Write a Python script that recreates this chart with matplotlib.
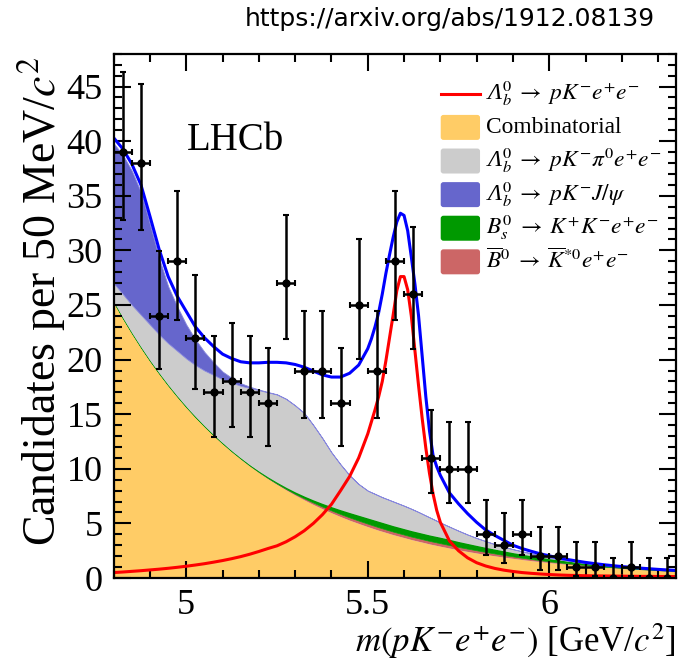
import numpy as np
import matplotlib
matplotlib.use('Agg')
import matplotlib.pyplot as plt
from matplotlib.lines import Line2D
from matplotlib.patches import FancyBboxPatch
from matplotlib.ticker import MultipleLocator

plt.rcParams['font.family'] = ['Liberation Serif', 'DejaVu Serif']
plt.rcParams['mathtext.fontset'] = 'stix'

# --- данные: гистограмма (бины по 50 МэВ) ---
bin_centers = np.arange(4.825, 6.35, 0.05)
counts = [39, 38, 24, 29, 22, 17, 18, 17, 16, 27, 19, 19, 16, 25, 19, 29,
          26, 11, 10, 10, 4, 3, 4, 2, 2, 1, 1, 0, 1, 0, 0]
err_lo = [6.22, 6.13, 4.86, 5.35, 4.65, 4.08, 4.20, 4.08, 3.95, 5.16, 4.32,
          4.32, 3.95, 4.96, 4.32, 5.35, 5.06, 3.26, 3.10, 3.10, 1.91, 1.63,
          1.91, 1.29, 1.29, 0.83, 0.83, 0.00, 0.83, 0.00, 0.00]
err_hi = [7.29, 7.22, 5.96, 6.44, 5.76, 5.20, 5.32, 5.20, 5.08, 6.26, 5.43,
          5.43, 5.08, 6.06, 5.43, 6.44, 6.16, 4.41, 4.27, 4.27, 3.16, 2.92,
          3.16, 2.64, 2.64, 2.30, 2.30, 1.84, 2.30, 1.84, 1.84]

# --- кривые фита ---
mass = np.concatenate([np.arange(4.8, 5.5001, 0.025),
                       np.arange(5.51, 5.7001, 0.01),
                       np.arange(5.725, 6.3501, 0.025)])
total_fit = [40.3, 39.3, 37.9, 36.0, 33.1, 30.1, 27.6, 25.8, 24.4, 23.0, 22.0,
             21.2, 20.5, 20.1, 19.8, 19.7, 19.7, 19.75, 19.75, 19.7, 19.55,
             19.3, 18.95, 18.6, 18.4, 18.4, 18.75, 19.5, 21.0,
             21.9, 23.0, 24.3, 26.0, 27.9, 29.6, 31.2, 32.6, 33.4, 33.2, 31.8,
             29.4, 26.9, 24.0, 20.3, 16.6, 13.5, 11.2, 10.2, 9.4,
             7.8, 6.8, 5.9, 5.1, 4.4, 3.9, 3.45, 3.0, 2.7, 2.45, 2.22, 2.03,
             1.85, 1.70, 1.56, 1.43, 1.32, 1.22, 1.13, 1.05, 0.98, 0.91, 0.85,
             0.79, 0.74, 0.69]
signal = [0.50, 0.55, 0.61, 0.67, 0.74, 0.81, 0.89, 0.98, 1.08, 1.19, 1.31,
          1.45, 1.60, 1.77, 1.96, 2.18, 2.43, 2.70, 2.95, 3.32, 3.78, 4.33,
          5.00, 5.80, 6.75, 8.0, 9.3, 11.0, 13.2,
          14.3, 15.4, 16.6, 18.0, 19.9, 22.0, 24.1, 26.3, 27.6, 27.6, 26.4,
          24.0, 20.8, 17.6, 14.6, 11.9, 9.6, 7.7, 6.2, 5.1,
          3.4, 2.5, 1.85, 1.4, 1.1, 0.88, 0.72, 0.60, 0.50, 0.43, 0.37, 0.32,
          0.28, 0.25, 0.23, 0.21, 0.20, 0.19, 0.18, 0.17, 0.16, 0.15, 0.15,
          0.14, 0.14, 0.13]
comb = [25.20, 23.73, 22.35, 21.05, 19.82, 18.67, 17.58, 16.56, 15.59, 14.68,
        13.83, 13.02, 12.27, 11.55, 10.88, 10.24, 9.65, 9.09, 8.56, 8.06,
        7.59, 7.15, 6.73, 6.34, 5.97, 5.62, 5.29, 4.99, 4.70,
        4.59, 4.48, 4.37, 4.27, 4.17, 4.07, 3.97, 3.88, 3.79, 3.70, 3.61,
        3.52, 3.44, 3.36, 3.28, 3.20, 3.12, 3.05, 2.98, 2.91,
        2.74, 2.58, 2.43, 2.29, 2.15, 2.03, 1.91, 1.80, 1.69, 1.59, 1.50,
        1.41, 1.33, 1.25, 1.18, 1.11, 1.04, 0.98, 0.93, 0.87, 0.82, 0.77,
        0.73, 0.69, 0.65, 0.61]
bkstar = [0.05] * 17 + [0.06, 0.08, 0.10, 0.12, 0.15, 0.18, 0.20, 0.22, 0.24,
                        0.26, 0.27, 0.28] + [0.28] * 20 + \
         [0.28, 0.27, 0.26, 0.25, 0.235, 0.22, 0.20, 0.18, 0.165, 0.15, 0.135,
          0.12, 0.11, 0.10, 0.09, 0.08, 0.07, 0.06, 0.055, 0.05, 0.045, 0.04,
          0.035, 0.03, 0.03, 0.03]
bs = [0.05] * 14 + [0.06, 0.07, 0.09, 0.11, 0.13, 0.15, 0.18, 0.21, 0.25,
                    0.30, 0.35, 0.40, 0.45, 0.49, 0.52] + \
     [0.53, 0.54] + [0.55] * 18 + \
     [0.53, 0.50, 0.48, 0.45, 0.43, 0.40, 0.38, 0.35, 0.33, 0.30, 0.28, 0.25,
      0.23, 0.20, 0.18, 0.16, 0.15, 0.13, 0.12, 0.10, 0.09, 0.08, 0.07, 0.06,
      0.055, 0.05]
pi0 = [1.70, 2.17, 2.55, 2.95, 3.28, 3.53, 3.82, 4.14, 4.41, 4.72, 5.07, 5.48,
       5.83, 6.25, 6.61, 7.04, 7.41, 7.74, 8.03, 8.09, 7.91, 7.59, 6.84, 5.96,
       4.96, 4.14, 3.40, 2.85, 2.50,
       2.45, 2.40, 2.35, 2.30, 2.27, 2.24, 2.21, 2.17, 2.13, 2.09, 2.04, 1.99,
       1.92, 1.85, 1.77, 1.69, 1.61, 1.52, 1.43, 1.34,
       1.15, 0.98, 0.81, 0.67, 0.56, 0.45, 0.37, 0.31, 0.26, 0.22, 0.18, 0.10,
       0.07, 0.06, 0.04, 0.03, 0.02, 0.02, 0.02, 0.02, 0.02, 0.02, 0.02, 0.02,
       0.02, 0.02]
jpsi = [12.8, 12.75, 12.29, 11.23, 9.16, 6.99, 5.21, 4.05, 3.10, 2.35, 1.70,
        1.15, 0.70, 0.43, 0.24, 0.12, 0.06, 0.03, 0.02, 0.01] + [0.0] * 55

leg_labels = [r'Λ${}_b^0\;\rightarrow\;pK^{-}e^{+}e^{-}$',
              'Combinatorial',
              r'Λ${}_b^0\;\rightarrow\;pK^{-}\pi^{0}e^{+}e^{-}$',
              r'Λ${}_b^0\;\rightarrow\;pK^{-}J/\psi$',
              r'$B_s^0\;\rightarrow\;K^{+}K^{-}e^{+}e^{-}$',
              r'$\overline{B}^0\;\rightarrow\;\overline{K}^{*0}e^{+}e^{-}$']
leg_colors = ['red', '#ffcc66', '#cccccc', '#6666cc', '#009900', '#cc6666']

# --- рисуем ---
fig = plt.figure(figsize=(6.81, 6.64), dpi=100)
ax = fig.add_axes([0.167, 0.1295, 0.826, 0.7895])

s1 = np.array(comb)
s2 = s1 + np.array(bkstar)
s3 = s2 + np.array(bs)
s4 = s3 + np.array(pi0)
s5 = s4 + np.array(jpsi)

ax.fill_between(mass, 0, s1, color='#ffcc66', lw=0)
ax.fill_between(mass, s1, s2, color='#cc6666', lw=0)
ax.fill_between(mass, s2, s3, facecolor='#009900', edgecolor='#009900', lw=0.5)
ax.fill_between(mass, s3, s4, color='#cccccc', lw=0)
ax.fill_between(mass, s4, s5, facecolor='#6666cc', edgecolor='#8888dd', lw=0.6)

ax.plot(mass, signal, color='red', lw=2.2)
ax.plot(mass, total_fit, color='blue', lw=2.2)

ax.errorbar(bin_centers, counts, yerr=[err_lo, err_hi], xerr=0.025,
            fmt='o', color='black', ms=5, elinewidth=1.8, capsize=2.5,
            capthick=1.5, zorder=5)

ax.set_xlim(4.8, 6.35)
ax.set_ylim(0, 48)
ax.set_xticks([5, 5.5, 6], ['5', '5.5', '6'])
ax.set_yticks(range(0, 50, 5))
ax.xaxis.set_minor_locator(MultipleLocator(0.1))
ax.yaxis.set_minor_locator(MultipleLocator(1))
ax.tick_params(which='both', direction='in', top=True, right=True,
               labelsize=26, width=1.5)
ax.tick_params(which='major', length=12)
ax.tick_params(which='minor', length=6)
ax.tick_params(axis='x', pad=8)
ax.tick_params(axis='y', pad=8)
for sp in ax.spines.values():
    sp.set_linewidth(1.6)

ax.set_xlabel(r'$m(pK^{-}e^{+}e^{-})$ [GeV/$c^2$]', fontsize=25, loc='right')
ax.xaxis.set_label_coords(1.0, -0.083)
ax.set_ylabel(r'Candidates per 50 MeV/$c^2$', fontsize=33, loc='center')
ax.yaxis.set_label_coords(-0.082, 0.5286)

ax.text(0.13, 0.817, 'LHCb', transform=ax.transAxes, fontsize=28)

# легенда вручную
row0, step = 0.9237, 0.0641
for i, (lab, col) in enumerate(zip(leg_labels, leg_colors)):
    yc = row0 - i * step
    if i == 0:
        ax.add_line(Line2D([0.5813, 0.6512], [yc, yc], color=col, lw=2.2,
                           transform=ax.transAxes))
    else:
        ax.add_patch(FancyBboxPatch((0.5813, yc - 0.0239), 0.0699, 0.0477,
                                    boxstyle='round,pad=0,rounding_size=0.005',
                                    facecolor=col, edgecolor='none',
                                    transform=ax.transAxes))
    ax.text(0.662, yc - 0.0115, lab, transform=ax.transAxes, va='baseline',
            fontsize=16.8, style='italic' if lab.startswith('Λ') else 'normal')

fig.text(0.962, 0.972, 'https://arxiv.org/abs/1912.08139', ha='right',
         va='center', fontsize=18, family='DejaVu Sans')

fig.savefig('out.png', dpi=100)
